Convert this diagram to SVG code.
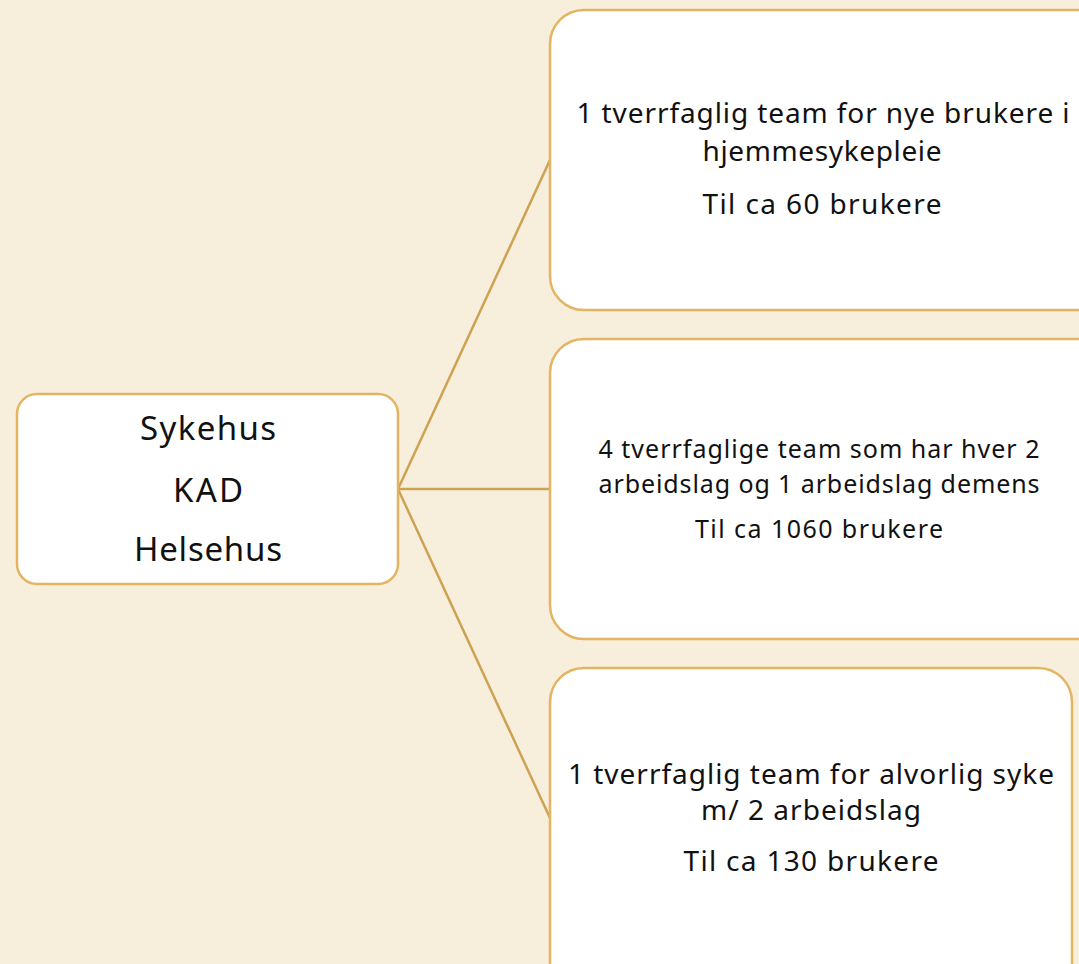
<svg xmlns="http://www.w3.org/2000/svg" width="1079" height="964" viewBox="0 0 1079 964">
<style>
.box{fill:#ffffff;stroke:#E3B562;stroke-width:2.5}
.con{stroke:#CDA253;stroke-width:2.5;fill:none}
text{font-family:"Noto Sans","Liberation Sans",sans-serif;fill:#111;text-anchor:middle}
.l{font-size:33px}
.t{font-size:28px}
.m{font-size:25px}
</style>
<rect width="1079" height="964" fill="#F8EEDC"/>
<g id="connectors">
<line class="con" x1="398" y1="489" x2="550" y2="160"/>
<line class="con" x1="398" y1="489" x2="550" y2="489"/>
<line class="con" x1="398" y1="489" x2="550" y2="818"/>
</g>
<g id="node-root">
<rect class="box" x="17" y="394" width="381" height="190" rx="20"/>
<text class="l" x="208" y="440" textLength="136" lengthAdjust="spacing">Sykehus</text>
<text class="l" x="208" y="502" textLength="70" lengthAdjust="spacing">KAD</text>
<text class="l" x="208" y="561" textLength="148" lengthAdjust="spacing">Helsehus</text>
</g>
<g id="node-top">
<rect class="box" x="550" y="10" width="560" height="300" rx="34"/>
<text class="t" x="823" y="123" textLength="493" lengthAdjust="spacing">1 tverrfaglig team for nye brukere i</text>
<text class="t" x="822" y="161" textLength="239" lengthAdjust="spacing">hjemmesykepleie</text>
<text class="t" x="822" y="214" textLength="239" lengthAdjust="spacing">Til ca 60 brukere</text>
</g>
<g id="node-mid">
<rect class="box" x="550" y="339" width="560" height="300" rx="34"/>
<text class="m" x="819" y="458" textLength="441" lengthAdjust="spacing">4 tverrfaglige team som har hver 2</text>
<text class="m" x="819" y="493" textLength="441" lengthAdjust="spacing">arbeidslag og 1 arbeidslag demens</text>
<text class="m" x="819" y="538" textLength="248" lengthAdjust="spacing">Til ca 1060 brukere</text>
</g>
<g id="node-bottom">
<rect class="box" x="550" y="668" width="522" height="330" rx="34"/>
<text class="t" x="811" y="784" textLength="486" lengthAdjust="spacing">1 tverrfaglig team for alvorlig syke</text>
<text class="t" x="811" y="820" textLength="220" lengthAdjust="spacing">m/ 2 arbeidslag</text>
<text class="t" x="811" y="871" textLength="255" lengthAdjust="spacing">Til ca 130 brukere</text>
</g>
</svg>
